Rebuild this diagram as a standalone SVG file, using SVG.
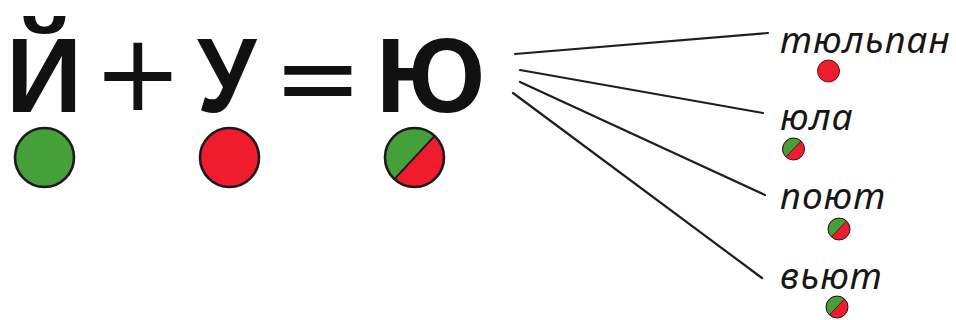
<svg xmlns="http://www.w3.org/2000/svg" xmlns:xlink="http://www.w3.org/1999/xlink" width="956" height="320" viewBox="0 0 956 320">
<style>
.big{font-family:"Liberation Sans",Arial,sans-serif;font-weight:bold;font-size:106px;fill:#111}
.op{font-family:"DejaVu Sans",sans-serif;font-size:107px;fill:#111}
.word{font-family:"Noto Sans","Liberation Sans",sans-serif;font-style:italic;font-size:37px;letter-spacing:1px;fill:#161616}
.conn line{stroke:#1e1e1e;stroke-width:2.2;stroke-linecap:round}
.g{fill:#45a03a}
.r{fill:#ee1c2c}
.ring{fill:none;stroke:#1b1b1b}
</style>
<defs>
<g id="splitBig">
<circle r="29.5" class="r"/>
<path d="M20.1,-21.6 A29.5,29.5 0 0 0 -20.1,21.6 Z" class="g"/>
<line x1="20.1" y1="-21.6" x2="-20.1" y2="21.6" stroke="#1b1b1b" stroke-width="2"/>
<circle r="29.5" class="ring" stroke-width="2.6"/>
</g>
<g id="splitSmall">
<circle r="11" class="r"/>
<path d="M7.5,-8 A11,11 0 0 0 -7.5,8 Z" class="g"/>
<line x1="7.5" y1="-8" x2="-7.5" y2="8" stroke="#3a2020" stroke-width="1"/>
<circle r="11" class="ring" stroke="#4a2020" stroke-width="1"/>
</g>
</defs>

<g id="node-yi">
<text class="big" x="6" y="112">Й</text>
<circle cx="44.5" cy="157.5" r="29.5" class="g"/>
<circle cx="44.5" cy="157.5" r="29.5" class="ring" stroke-width="2.6"/>
</g>
<g id="plus"><text class="op" x="93" y="110">+</text></g>
<g id="node-u">
<text class="big" transform="translate(197,112) scale(0.9,1)">У</text>
<circle cx="229.5" cy="157.5" r="29.5" class="r"/>
<circle cx="229.5" cy="157.5" r="29.5" class="ring" stroke-width="2.6"/>
</g>
<g id="equals"><text class="op" x="273" y="114">=</text></g>
<g id="node-yu">
<text class="big" x="376" y="112">Ю</text>
<use xlink:href="#splitBig" x="414.5" y="157.5"/>
</g>

<g class="conn" id="connectors">
<line x1="515" y1="54" x2="768" y2="33"/>
<line x1="520" y1="70" x2="763" y2="113"/>
<line x1="520" y1="82" x2="765" y2="195"/>
<line x1="513" y1="93" x2="762" y2="278"/>
</g>

<g id="word-tyulpan">
<text class="word" x="780" y="53">тюльпан</text>
<circle cx="828.5" cy="71" r="11" class="r" stroke="#5a1818" stroke-width="1"/>
</g>
<g id="word-yula">
<text class="word" x="780" y="130">юла</text>
<use xlink:href="#splitSmall" x="793.5" y="149"/>
</g>
<g id="word-poyut">
<text class="word" x="780" y="209">поют</text>
<use xlink:href="#splitSmall" x="839" y="229"/>
</g>
<g id="word-vyut">
<text class="word" x="780" y="289">вьют</text>
<use xlink:href="#splitSmall" x="837" y="307"/>
</g>
</svg>
